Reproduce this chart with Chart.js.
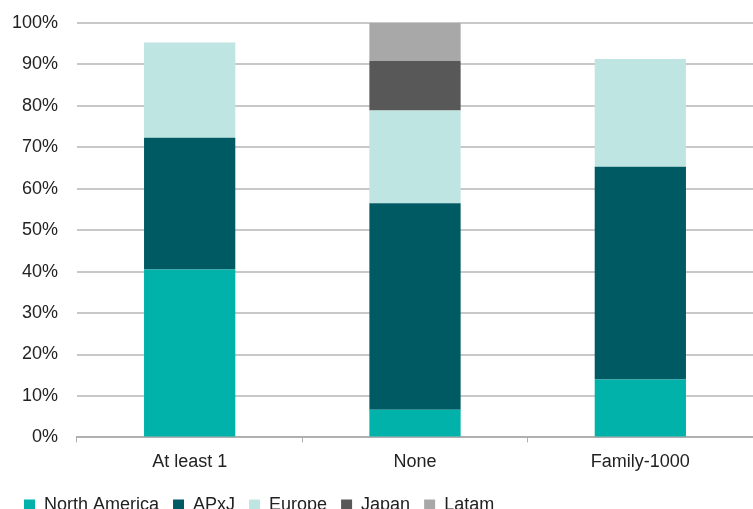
<!DOCTYPE html>
<html>
<head>
<meta charset="utf-8">
<script src="https://cdn.jsdelivr.net/npm/chart.js@4"></script>
<style>
  html, body { margin: 0; padding: 0; background: #fff; }
  #wrap { width: 753px; height: 509px; overflow: hidden; }
</style>
</head>
<body>
<div id="wrap"><canvas id="chart" width="753" height="509"></canvas></div>
<script>
/* Stacked share by region, per category */
const categories = ['At least 1', 'None', 'Family-1000'];
const northAmerica = [40.5, 6.7, 14.0];
const apxj         = [31.8, 49.8, 51.3];
const europe       = [23.0, 22.4, 26.0];
const japan        = [0, 11.9, 0];
const latam        = [0, 9.2, 0];
const yTicks = [0, 10, 20, 30, 40, 50, 60, 70, 80, 90, 100];

const FONT = '"Liberation Sans", Arial, sans-serif';

const mk = (label, data, color) => ({
  label, data, backgroundColor: color, borderWidth: 0,
  categoryPercentage: 1, barPercentage: 0.405
});

new Chart(document.getElementById('chart'), {
  type: 'bar',
  data: {
    labels: categories,
    datasets: [
      mk('North America', northAmerica, '#00b2aa'),
      mk('APxJ', apxj, '#005a64'),
      mk('Europe', europe, '#bfe5e2'),
      mk('Japan', japan, '#585858'),
      mk('Latam', latam, '#a8a8a8')
    ]
  },
  options: {
    responsive: false,
    animation: false,
    layout: { padding: { top: 23, right: -5, left: 10, bottom: -15 } },
    plugins: {
      tooltip: { enabled: false },
      legend: {
        position: 'bottom',
        align: 'start',
        labels: {
          color: '#222', font: { family: FONT, size: 18 },
          boxWidth: 11, boxHeight: 11, padding: 14
        }
      }
    },
    scales: {
      x: {
        stacked: true,
        grid: { offset: true, drawOnChartArea: false, drawTicks: true, tickLength: 5, color: '#b0b0b0' },
        border: { color: '#b0b0b0', width: 2 },
        ticks: { color: '#222', font: { family: FONT, size: 18 }, padding: 9 }
      },
      y: {
        stacked: true,
        min: 0, max: 100,
        afterFit: s => { s.width = 67; s.paddingTop = 0; s.paddingBottom = 0; },
        afterBuildTicks: s => { s.ticks = yTicks.map(v => ({ value: v })); },
        grid: { color: '#c8c8c8', lineWidth: 2, drawTicks: false },
        border: { display: false },
        ticks: { color: '#222', font: { family: FONT, size: 18 }, padding: 19, callback: v => v + '%' }
      }
    }
  }
});
</script>
</body>
</html>
